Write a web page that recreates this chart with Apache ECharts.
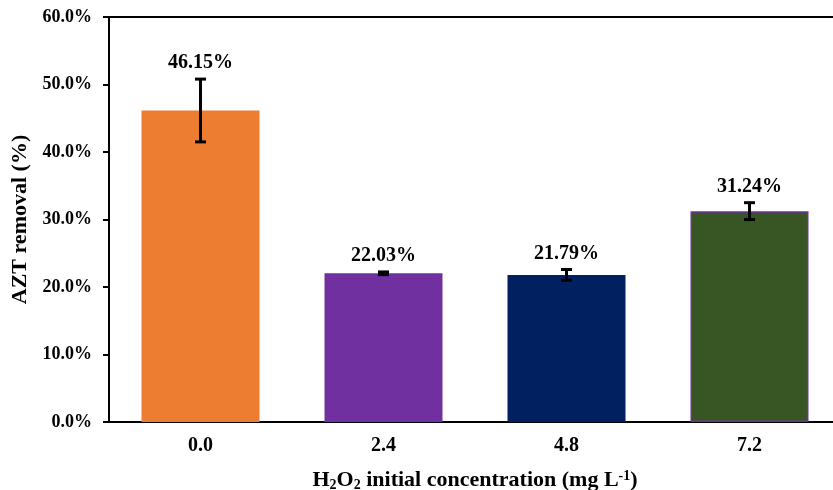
<!DOCTYPE html>
<html><head><meta charset="utf-8">
<script src="https://cdn.jsdelivr.net/npm/echarts@6/dist/echarts.min.js"></script>
<style>html,body{margin:0;padding:0;background:#fff}#c{width:833px;height:490px}</style>
</head><body><div id="c"></div>
<script>
var categories = ['0.0', '2.4', '4.8', '7.2'];
var removal = [46.15, 22.03, 21.79, 31.24];
var errors = [4.65, 0.2, 0.8, 1.25];
var barColors = ['#ED7D31', '#7030A0', '#002060', '#375623'];
var barBorders = ['#ED7D31', '#7030A0', '#002060', '#7030A0'];
var yTicks = [0, 10, 20, 30, 40, 50, 60];

var font = '"Liberation Serif", "Times New Roman", serif';
var chart = echarts.init(document.getElementById('c'), null, {renderer: 'canvas'});
var barData = removal.map(function (v, i) {
  return {value: v, itemStyle: {color: barColors[i], borderColor: barBorders[i], borderWidth: i === 3 ? 1.5 : 0}};
});
var errData = removal.map(function (v, i) { return [i, v - errors[i], v + errors[i], v]; });

chart.setOption({
  animation: false,
  grid: {left: 109, top: 17, width: 732, height: 405, containLabel: false, outerBoundsMode: 'none'},
  xAxis: [{
    type: 'category', data: categories, position: 'bottom',
    axisLine: {lineStyle: {color: '#000', width: 2}},
    axisTick: {show: false},
    axisLabel: {color: '#000', fontFamily: font, fontWeight: 'bold', fontSize: 20, margin: 14},
    name: '{b|H}{s|2}{b|O}{s|2}{b| initial concentration (mg L}{p|-1}{b|)}',
    nameLocation: 'middle', nameGap: 47,
    nameTextStyle: {
      rich: {
        b: {fontFamily: font, fontWeight: 'bold', fontSize: 22, color: '#000'},
        s: {fontFamily: font, fontWeight: 'bold', fontSize: 14, color: '#000', verticalAlign: 'bottom', padding: [9, 0, 0, 0]},
        p: {fontFamily: font, fontWeight: 'bold', fontSize: 14, color: '#000', verticalAlign: 'top', padding: [0, 0, 9, 0]}
      }
    }
  }, {
    type: 'category', data: categories, position: 'top',
    axisLine: {lineStyle: {color: '#000', width: 2}},
    axisTick: {show: false}, axisLabel: {show: false}
  }],
  yAxis: {
    type: 'value', min: yTicks[0], max: yTicks[yTicks.length - 1], interval: 10,
    axisLine: {show: true, lineStyle: {color: '#000', width: 2}},
    axisTick: {show: true, inside: false, length: 6, lineStyle: {color: '#000', width: 2}},
    splitLine: {show: false},
    axisLabel: {color: '#000', fontFamily: font, fontWeight: 'bold', fontSize: 18, margin: 17,
      formatter: function (v) { return v.toFixed(1) + '%'; }},
    name: 'AZT removal (%)', nameLocation: 'middle', nameGap: 78,
    nameTextStyle: {color: '#000', fontFamily: font, fontWeight: 'bold', fontSize: 22}
  },
  series: [{
    type: 'bar', data: barData, barWidth: 118, xAxisIndex: 0
  }, {
    type: 'custom', data: errData, xAxisIndex: 0, z: 10,
    renderItem: function (params, api) {
      var x = api.value(0);
      var lo = api.coord([x, api.value(1)]);
      var hi = api.coord([x, api.value(2)]);
      var cap = 5.5;
      var st = {stroke: '#000', lineWidth: 3};
      return {type: 'group', children: [
        {type: 'line', shape: {x1: hi[0], y1: hi[1], x2: lo[0], y2: lo[1]}, style: st},
        {type: 'line', shape: {x1: hi[0] - cap, y1: hi[1], x2: hi[0] + cap, y2: hi[1]}, style: st},
        {type: 'line', shape: {x1: lo[0] - cap, y1: lo[1], x2: lo[0] + cap, y2: lo[1]}, style: st},
        {type: 'text', x: hi[0], y: hi[1] - 16, style: {
          text: api.value(3).toFixed(2) + '%', fill: '#000', align: 'center', verticalAlign: 'middle',
          font: 'bold 20px ' + font}}
      ]};
    }
  }]
});
</script></body></html>
